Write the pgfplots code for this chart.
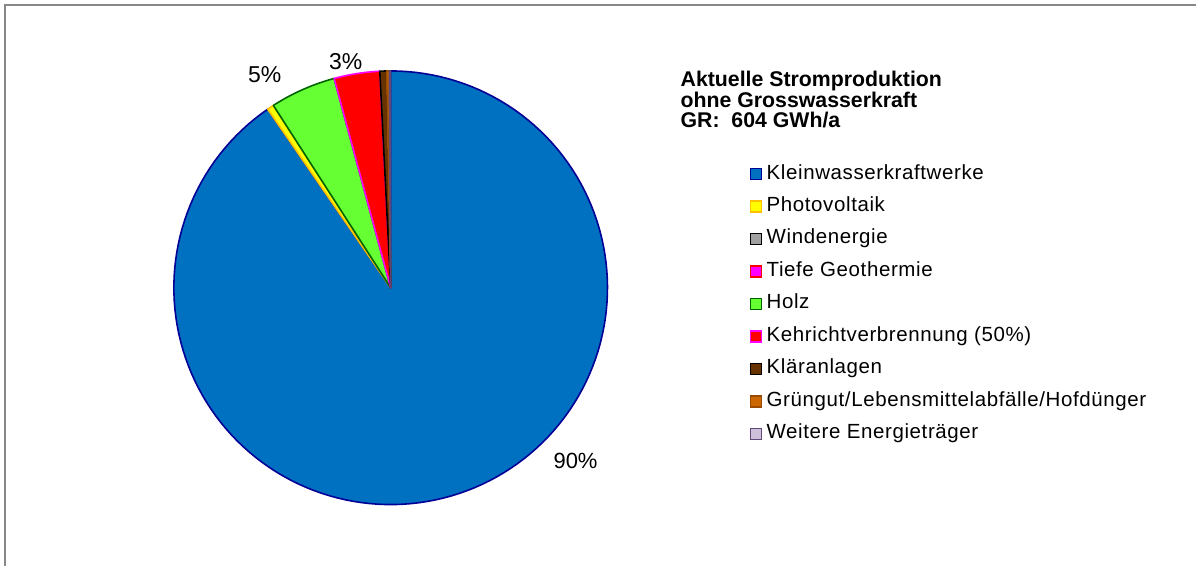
\documentclass[border=0pt]{standalone}
\usepackage{pgfplots}
\pgfplotsset{compat=1.18}
\usepackage{fontspec}
\setmainfont{Liberation Sans}
\newfontfamily\legfont[LetterSpace=3]{Liberation Sans}

\definecolor{fKlein}{RGB}{0,112,192}   \definecolor{dKlein}{RGB}{0,0,150}
\definecolor{fPV}{RGB}{255,255,0}      \definecolor{dPV}{RGB}{255,192,0}
\definecolor{fWind}{RGB}{160,160,160}  \definecolor{dWind}{RGB}{0,0,0}
\definecolor{fGeo}{RGB}{255,0,255}     \definecolor{dGeo}{RGB}{255,0,0}
\definecolor{fHolz}{RGB}{102,255,51}   \definecolor{dHolz}{RGB}{0,100,0}
\definecolor{fKVA}{RGB}{255,0,0}       \definecolor{dKVA}{RGB}{255,0,255}
\definecolor{fKlaer}{RGB}{102,51,0}    \definecolor{dKlaer}{RGB}{0,0,0}
\definecolor{fGruen}{RGB}{204,102,0}   \definecolor{dGruen}{RGB}{153,76,0}
\definecolor{fWeit}{RGB}{204,192,218}  \definecolor{dWeit}{RGB}{96,73,122}
\definecolor{framegray}{RGB}{136,136,136}

% shares in percent (clockwise from 12 o'clock)
\newcommand\startang{0}
\newcommand\slice[3]{%
  \pgfmathsetmacro\endang{\startang+3.6*#1}%
  \edef\tmp{\noexpand\addplot[fill=#2,draw=#3,line width=1.6bp,line join=round,domain=\startang:\endang,samples=150,variable=\noexpand\t,forget plot]
    ({391+217*sin(\noexpand\t)},{278+217*cos(\noexpand\t)}) -- (axis cs:391,278) -- cycle;}%
  \tmp
  \xdef\startang{\endang}}

\begin{document}
\begin{tikzpicture}
\begin{axis}[
  hide axis, scale only axis,
  width=1197bp, height=566bp,
  xmin=0, xmax=1197, ymin=0, ymax=566,
  clip=false,
  legend image code/.code={\draw[#1,line width=1.6bp] (0bp,-5.5bp) rectangle (11bp,5.5bp);},
  legend cell align=left,
  legend style={draw=none, fill=none, at={(axis cs:750,402)}, anchor=north west,
    font=\legfont\fontsize{20.5bp}{22bp}\selectfont, row sep=12.5bp, column sep=3.5bp, inner sep=0pt,
    nodes={inner sep=1bp, text height=14bp, text depth=4bp}},
]
\path (axis cs:0,0) rectangle (axis cs:1197,566);
\draw[framegray, line width=2bp] (axis cs:5,0) -- (axis cs:5,561) -- (axis cs:1197,561);

\slice{90.4}{fKlein}{dKlein}
\slice{0.5}{fPV}{dPV}
\slice{4.9}{fHolz}{dHolz}
\slice{3.4}{fKVA}{dKVA}
\slice{0.5}{fKlaer}{dKlaer}
\slice{0.2}{fGruen}{dGruen}
\slice{0.1}{fWeit}{dWeit}

\addlegendimage{fill=fKlein,draw=dKlein}\addlegendentry{Kleinwasserkraftwerke}
\addlegendimage{fill=fPV,draw=dPV}\addlegendentry{Photovoltaik}
\addlegendimage{fill=fWind,draw=dWind}\addlegendentry{Windenergie}
\addlegendimage{fill=fGeo,draw=dGeo}\addlegendentry{Tiefe Geothermie}
\addlegendimage{fill=fHolz,draw=dHolz}\addlegendentry{Holz}
\addlegendimage{fill=fKVA,draw=dKVA}\addlegendentry{Kehrichtverbrennung (50\%)}
\addlegendimage{fill=fKlaer,draw=dKlaer}\addlegendentry{Kläranlagen}
\addlegendimage{fill=fGruen,draw=dGruen}\addlegendentry{Grüngut/Lebensmittelabfälle/Hofdünger}
\addlegendimage{fill=fWeit,draw=dWeit}\addlegendentry{Weitere Energieträger}

\node[font=\fontsize{23bp}{26bp}\selectfont] at (axis cs:265,491) {5\%};
\node[font=\fontsize{23bp}{26bp}\selectfont] at (axis cs:346,504) {3\%};
\node[font=\fontsize{22bp}{26bp}\selectfont] at (axis cs:576,105) {90\%};

\node[anchor=north west, align=left, inner sep=0pt,
  font=\bfseries\fontsize{21.3bp}{19.8bp}\selectfont] at (axis cs:681,495)
  {Aktuelle Stromproduktion\\ohne Grosswasserkraft\\GR:\ \ 604 GWh/a};
\end{axis}
\end{tikzpicture}
\end{document}
